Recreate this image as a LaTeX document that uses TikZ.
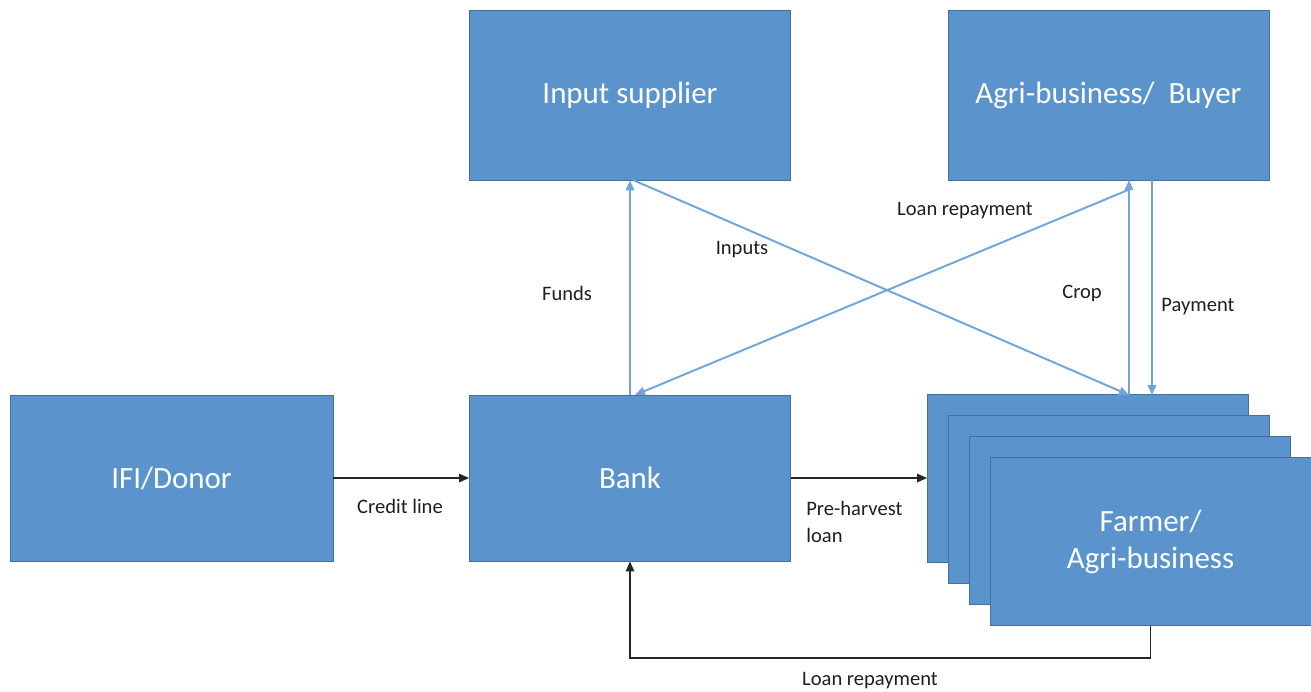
\documentclass[tikz,border=0pt]{standalone}
\usepackage{fontspec}
\setmainfont{Carlito}
\usetikzlibrary{arrows.meta}
\definecolor{boxblue}{RGB}{91,147,204}
\definecolor{boxedge}{RGB}{66,113,158}
\definecolor{flowblue}{RGB}{112,165,220}
\definecolor{labelgray}{RGB}{30,30,30}

\begin{document}
\begin{tikzpicture}[x=0.02cm,y=-0.02cm,
  party/.style={draw=boxedge,line width=0.5pt,fill=boxblue,text=white,
    minimum width=6.42cm,minimum height=3.36cm,inner sep=0pt,
    font=\fontsize{17.6}{21}\selectfont,align=center},
  flow/.style={draw=flowblue,line width=1.1pt,-{Triangle[length=0.2cm,width=0.17cm]}},
  money/.style={draw=black!85,line width=0.8pt,-{Triangle[length=0.2cm,width=0.17cm]}},
  lbl/.style={text=labelgray,font=\fontsize{11.7}{15.5}\selectfont,inner sep=0pt}]
 \useasboundingbox (0,0) rectangle (1311,691);
 % boxes
 \node[party,minimum height=3.4cm] (supplier) at (630,95) {\raisebox{-4pt}{Input supplier}};
 \node[party,minimum height=3.4cm] (buyer) at (1108.5,95) {\raisebox{-4pt}{Agri-business/\ \ Buyer}};
 \node[party,minimum width=6.46cm,minimum height=3.32cm] (donor) at (171.5,478) {IFI/Donor};
 \node[party,minimum height=3.32cm] (bank) at (630,478) {Bank};
 % stack of farmers, back to front
 \node[party] (f1) at (1088,478) {};
 \node[party] (f2) at (1108.5,499) {};
 \node[party] (f3) at (1130,520) {};
 \node[party] (f4) at (1150.5,541.5) {Farmer/\\Agri-business};
 \coordinate (croptop) at (1129,180);
 \coordinate (cropbot) at (1129,395);
 \coordinate (paytop) at (1152,180);
 \coordinate (paybot) at (1152,395);
 \coordinate (repaytop) at (1128,190);
 \coordinate (inputsrc) at (633,180);
 \coordinate (repaybot) at (635,395);

 \draw[money] (donor.east) -- (bank.west);
 \draw[money] (bank.east) -- (f1.west);
 \draw[money] (f4.south) -- ++(0,32) -| (bank.south);
 \draw[flow] (bank.north) -- (supplier.south);
 \draw[flow] (inputsrc) -- (cropbot);
 \draw[flow] (repaytop) -- (repaybot);
 \draw[flow] (cropbot) -- (croptop);
 \draw[flow] (paytop) -- (paybot);

 % labels
 \node[lbl] (lcredit) at (400,506) {Credit line};
 \node[lbl,anchor=west,align=left] (lpre) at (806,522) {Pre-harvest\\loan};
 \node[lbl] (lrepay) at (870,681) {Loan repayment};
 \node[lbl] (lfunds) at (567,293) {Funds};
 \node[lbl] (linputs) at (742,250) {Inputs};
 \node[lbl] (lrepay2) at (965,211) {Loan repayment};
 \node[lbl] (lcrop) at (1082,293) {Crop};
 \node[lbl] (lpay) at (1198,307) {Payment};
\end{tikzpicture}
\end{document}
